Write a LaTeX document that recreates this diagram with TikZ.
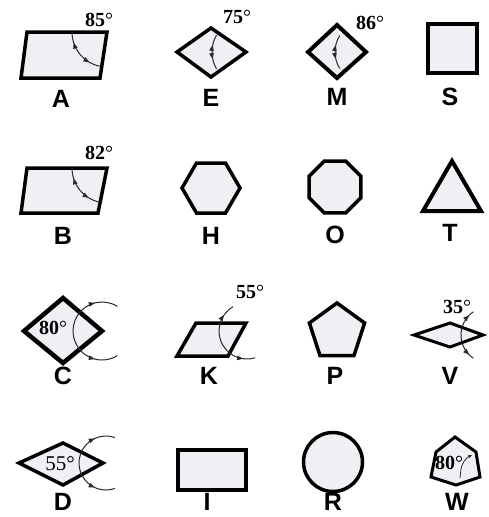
\documentclass[tikz,border=0pt]{standalone}
\usepackage{fontspec}
\setmainfont{Liberation Serif}
\newfontfamily\labfont{Liberation Sans}
\usetikzlibrary{arrows.meta,decorations.markings}
\definecolor{shfill}{RGB}{238,240,244}
\definecolor{arcc}{RGB}{40,40,40}
\tikzset{
 shp/.style={draw=black, line width=3.5pt, fill=shfill, line join=miter, miter limit=10},
 lab/.style={font=\labfont\bfseries\fontsize{25}{25}\selectfont, inner sep=0pt},
 ang/.style={font=\bfseries\fontsize{20}{20}\selectfont, inner sep=0pt},
 angr/.style={font=\fontsize{21}{21}\selectfont, inner sep=0pt},
 arcl/.style={color=arcc, line width=1pt},
 twoarrows/.style 2 args={postaction={decorate, decoration={markings,
   mark=at position #1 with {\arrowreversed{Triangle[length=6pt,width=4.5pt]}},
   mark=at position #2 with {\arrow{Triangle[length=6pt,width=4.5pt]}}}}}
}
\begin{document}
\begin{tikzpicture}[x=1pt,y=-1pt]
\useasboundingbox (0,0) rectangle (488,517);
% ---- row 1 ----
% A
\draw[shp] (27,32) -- (107,32) -- (100,78) -- (21,78) -- cycle;
\draw[arcl, twoarrows={0.22}{0.75}] (107,32) ++(180:35) arc[start angle=180, end angle=100, radius=35];
\node[ang] (a85) at (99,20) {85{\mdseries °}};
\node[lab] (lA) at (61,99) {A};
% E
\draw[shp] (211,28) -- (246,52) -- (211,77) -- (177,52) -- cycle;
\draw[arcl, twoarrows={0.3}{0.7}] (246,52) ++(210:34) arc[start angle=210, end angle=150, radius=34];
\node[ang] (a75) at (237,17) {75{\mdseries °}};
\node[lab] (lE) at (211,97.5) {E};
% M
\draw[shp, line width=4pt] (337,25) -- (366,52) -- (337,78) -- (308,52) -- cycle;
\draw[arcl, twoarrows={0.3}{0.7}] (366,52) ++(212:31) arc[start angle=212, end angle=148, radius=31];
\node[ang] (a86) at (370,23) {86{\mdseries °}};
\node[lab] (lM) at (337,97) {M};
% S
\draw[shp, line width=4pt] (428,24) rectangle (477,73);
\node[lab] (lS) at (450,97) {S};
% ---- row 2 ----
% B
\draw[shp] (27,168) -- (107,168) -- (98,213) -- (21,213) -- cycle;
\draw[arcl, twoarrows={0.22}{0.75}] (107,168) ++(180:35) arc[start angle=180, end angle=102, radius=35];
\node[ang] (a82) at (99,153) {82{\mdseries °}};
\node[lab] (lB) at (63,236) {B};
% H
\draw[shp] (240,188) -- (225.5,163) -- (196.5,163) -- (182,188) -- (196.5,213) -- (225.5,213) -- cycle;
\node[lab] (lH) at (211,236) {H};
% O
\draw[shp] (360.9,176.3) -- (345.7,161.1) -- (324.3,161.1) -- (309.1,176.3) -- (309.1,197.7) -- (324.3,212.9) -- (345.7,212.9) -- (360.9,197.7) -- cycle;
\node[lab] (lO) at (335,235) {O};
% T
\draw[shp, line width=4pt] (452,161) -- (481,211) -- (423,211) -- cycle;
\node[lab] (lT) at (450,233) {T};
% ---- row 3 ----
% C
\draw[shp, line width=4.5pt] (63,298) -- (102,331) -- (63,363) -- (24,331) -- cycle;
\draw[arcl, twoarrows={0.19}{0.81}] (102,331) ++(-58:29) arc[start angle=-58, end angle=-302, radius=29];
\node[ang] (a80c) at (53,328) {80{\mdseries °}};
\node[lab] (lC) at (63,376) {C};
% K
\draw[shp] (196,323) -- (246,323) -- (228,356) -- (177,356) -- cycle;
\draw[arcl, twoarrows={0.15}{0.85}] (247,331) ++(-120:28) arc[start angle=-120, end angle=-287, radius=28];
\node[ang] (a55k) at (250,292) {55{\mdseries °}};
\node[lab] (lK) at (209,376) {K};
% P
\draw[shp] (337,303) -- (364.6,323) -- (354,355.5) -- (320,355.5) -- (309.4,323) -- cycle;
\node[lab] (lP) at (335,376) {P};
% V
\draw[shp, line width=3pt] (414,335) -- (450,323) -- (483,335) -- (450,347) -- cycle;
\draw[arcl, twoarrows={0.1}{0.9}] (489,335) ++(-124:28) arc[start angle=-124, end angle=-236, radius=28];
\node[ang] (a35) at (457,307) {35{\mdseries °}};
\node[lab] (lV) at (450,376) {V};
% ---- row 4 ----
% D
\draw[shp] (19,463) -- (63,443) -- (103,463) -- (63,485) -- cycle;
\draw[arcl, twoarrows={0.2}{0.8}] (106,463) ++(-71:27) arc[start angle=-71, end angle=-289, radius=27];
\node[angr] (a55d) at (60,464) {55°};
\node[lab] (lD) at (63,502) {D};
% I
\draw[shp] (178,450) rectangle (246,490);
\node[lab] (lI) at (207,502) {I};
% R
\draw[shp] (333,462) circle[radius=29.5];
\node[lab] (lR) at (333,502) {R};
% W
\draw[shp, line width=3pt] (455,437) -- (476,452) -- (480,477) -- (456,485) -- (431,477) -- (436,452) -- cycle;
\node[ang] (a80w) at (449,463) {80{\mdseries °}};
\draw[arcl, line width=0.8pt, -{Triangle[length=3.5pt,width=3pt]}] (460,478) -- (461,469) .. controls (462,463) and (466,458) .. (472,455);
\node[lab] (lW) at (457,502) {W};
\end{tikzpicture}
\end{document}
